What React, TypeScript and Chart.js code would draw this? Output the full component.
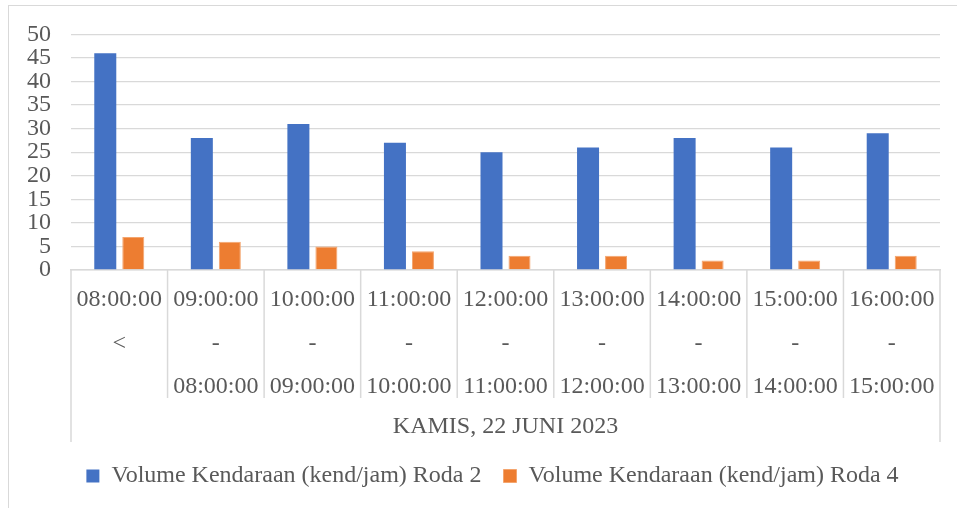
import React, { useEffect, useRef } from "react";
import { Chart, registerables } from "chart.js";

Chart.register(...registerables);

const categories: string[][] = [
  ["08:00:00", "<", ""],
  ["09:00:00", "-", "08:00:00"],
  ["10:00:00", "-", "09:00:00"],
  ["11:00:00", "-", "10:00:00"],
  ["12:00:00", "-", "11:00:00"],
  ["13:00:00", "-", "12:00:00"],
  ["14:00:00", "-", "13:00:00"],
  ["15:00:00", "-", "14:00:00"],
  ["16:00:00", "-", "15:00:00"],
];
const roda2: number[] = [46, 28, 31, 27, 25, 26, 28, 26, 29];
const roda4: number[] = [7, 6, 5, 4, 3, 3, 2, 2, 3];
const seriesNames: string[] = [
  "Volume Kendaraan (kend/jam) Roda 2",
  "Volume Kendaraan (kend/jam) Roda 4",
];
const groupTitle = "KAMIS, 22 JUNI 2023";

const FONT = "'Liberation Serif', 'Times New Roman', serif";
const TEXT = "#595959";
const GRID = "#d9d9d9";

const dividerPlugin = {
  id: "dividers",
  afterLayout(chart: any) {
    const l = chart.legend;
    if (l) {
      l.left += 12;
      l.right += 12;
    }
  },
  afterDraw(chart: any) {
    const x = chart.scales.x;
    const n = chart.data.labels.length;
    const step = x.getPixelForValue(1) - x.getPixelForValue(0);
    const ctx = chart.ctx;
    ctx.save();
    ctx.strokeStyle = GRID;
    ctx.lineWidth = 1.5;
    for (let i = 0; i <= n; i++) {
      const px = x.getPixelForValue(0) - step / 2 + i * step;
      const end = i === 0 || i === n ? x.bottom : x.top + 128;
      ctx.beginPath();
      ctx.moveTo(px, x.top);
      ctx.lineTo(px, end);
      ctx.stroke();
    }
    ctx.restore();
  },
};

export default function App() {
  const ref = useRef<HTMLCanvasElement>(null);
  useEffect(() => {
    if (!ref.current) return;
    const chart = new Chart(ref.current, {
      type: "bar",
      data: {
        labels: categories,
        datasets: [
          {
            label: seriesNames[0],
            data: roda2,
            backgroundColor: "#4472C4",
            categoryPercentage: 0.58,
            barPercentage: 0.786,
          },
          {
            label: seriesNames[1],
            data: roda4,
            backgroundColor: "#ED7D31",
            borderColor: "#F4A56E",
            borderWidth: 1,
            categoryPercentage: 0.58,
            barPercentage: 0.786,
          },
        ],
      },
      options: {
        animation: false,
        responsive: false,
        maintainAspectRatio: false,
        layout: { padding: { top: 34, left: 21, right: 17, bottom: 10 } },
        plugins: {
          tooltip: { enabled: false },
          legend: {
            position: "bottom",
            labels: {
              font: { family: FONT, size: 24 },
              color: TEXT,
              boxWidth: 13,
              boxHeight: 13,
              padding: 22,
            },
          },
        },
        scales: {
          x: {
            grid: { display: false, drawTicks: false },
            border: { display: true, color: GRID, width: 1.5 },
            ticks: {
              autoSkip: false,
              maxRotation: 0,
              minRotation: 0,
              padding: 8,
              color: TEXT,
              font: { family: FONT, size: 24, lineHeight: 1.8125 },
            },
            title: {
              display: true,
              text: groupTitle,
              color: TEXT,
              font: { family: FONT, size: 24, lineHeight: 1.2 },
              padding: { top: 0, bottom: 1 },
            },
            afterFit(scale: any) {
              scale.height = 172;
            },
          },
          y: {
            min: 0,
            max: 50,
            ticks: {
              stepSize: 5,
              autoSkip: false,
              padding: 20,
              color: TEXT,
              font: { family: FONT, size: 24 },
            },
            grid: { color: GRID, lineWidth: 1.3, drawTicks: false },
            border: { display: false },
            afterFit(scale: any) {
              scale.width = 50;
            },
          },
        },
      },
      plugins: [dividerPlugin],
    });
    return () => chart.destroy();
  }, []);
  return (
    <div style={{ position: "fixed", left: 0, top: 0, width: 957, height: 508, background: "#fff", overflow: "hidden" }}>
      <div
        style={{
          position: "absolute",
          left: 8,
          top: 5,
          width: 2000,
          height: 2000,
          border: "1.5px solid #d9d9d9",
          boxSizing: "border-box",
        }}
      />
      <canvas ref={ref} width={957} height={508} style={{ position: "absolute", left: 0, top: 0, width: 957, height: 508 }} />
    </div>
  );
}
